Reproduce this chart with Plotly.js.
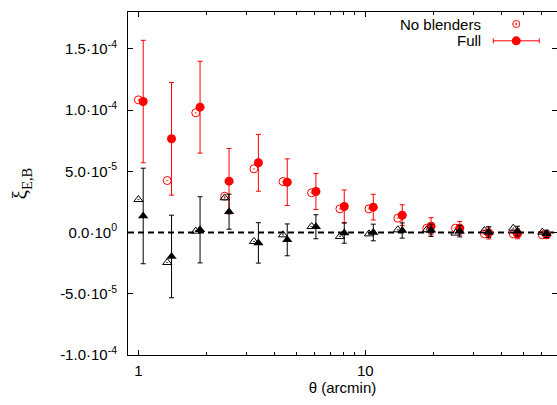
<!DOCTYPE html>
<html>
<head>
<meta charset="utf-8">
<script src="https://cdn.plot.ly/plotly-3.0.1.min.js"></script>
<style>
html,body{margin:0;padding:0;background:#fff;overflow:hidden;}
#chart{width:557px;height:405px;}
</style>
</head>
<body>
<div id="chart"></div>
<script>
// angular scale (arcmin): "No blenders" points and "Full" points (slightly offset)
const thetaNoBlend = [1.0, 1.34, 1.79, 2.40, 3.23, 4.34, 5.80, 7.73, 10.38, 13.92, 18.66, 24.98, 33.5, 44.9, 60.3];
const thetaFull    = [1.05, 1.40, 1.87, 2.51, 3.38, 4.53, 6.06, 8.08, 10.85, 14.55, 19.5, 26.1, 35.0, 46.9, 63.0];

// E-mode
const xiE_noBlend = [10.83e-5, 4.24e-5, 9.77e-5, 2.96e-5, 5.20e-5, 4.16e-5, 3.24e-5, 1.93e-5, 1.93e-5, 1.17e-5, 0.35e-5, 0.35e-5, -0.11e-5, -0.11e-5, -0.19e-5];
const xiE_full    = [10.69e-5, 7.65e-5, 10.23e-5, 4.19e-5, 5.69e-5, 4.11e-5, 3.35e-5, 2.12e-5, 2.07e-5, 1.41e-5, 0.51e-5, 0.35e-5, -0.03e-5, -0.11e-5, -0.19e-5];
const xiE_fullErr = [5.00e-5, 4.60e-5, 3.75e-5, 2.67e-5, 2.32e-5, 1.90e-5, 1.47e-5, 1.35e-5, 1.05e-5, 0.85e-5, 0.70e-5, 0.55e-5, 0.50e-5, 0.40e-5, 0.30e-5];

// B-mode
const xiB_noBlend = [2.69e-5, -2.45e-5, 0.11e-5, 2.83e-5, -0.73e-5, -0.19e-5, 0.49e-5, -0.33e-5, -0.11e-5, 0.22e-5, 0.22e-5, -0.05e-5, 0.16e-5, 0.35e-5, 0.03e-5];
const xiB_full    = [1.35e-5, -1.96e-5, 0.22e-5, 1.70e-5, -0.85e-5, -0.60e-5, 0.47e-5, -0.04e-5, 0.00e-5, 0.16e-5, 0.18e-5, 0.11e-5, 0.03e-5, 0.11e-5, -0.11e-5];
const xiB_fullErr = [3.90e-5, 3.37e-5, 2.70e-5, 1.43e-5, 1.65e-5, 1.30e-5, 0.98e-5, 0.83e-5, 0.68e-5, 0.62e-5, 0.50e-5, 0.47e-5, 0.43e-5, 0.40e-5, 0.30e-5];

// axis ticks
const yTickVals = [-1e-4, -5e-5, 0, 5e-5, 1e-4, 1.5e-4];
const yTickText = ['-1.0·10<sup>-4</sup>', '-5.0·10<sup>-5</sup>', '0.0·10<sup>0</sup>', '5.0·10<sup>-5</sup>', '1.0·10<sup>-4</sup>', '1.5·10<sup>-4</sup>'];
const xTickVals = [1, 10];
const xTickText = ['1', '10'];
const xMinorVals = [2, 3, 4, 5, 6, 7, 8, 9, 20, 30, 40, 50, 60];

const RED = '#ff0000';
const FONT = 'Liberation Sans, Arial, sans-serif';

const traces = [
  {x: thetaNoBlend, y: xiE_noBlend, mode: 'markers', type: 'scatter', name: 'No blenders',
   marker: {symbol: 'circle-open-dot', size: 8, color: RED, line: {width: 1, color: RED}}},
  {x: thetaFull, y: xiE_full, mode: 'markers', type: 'scatter', name: 'Full',
   error_y: {type: 'data', array: xiE_fullErr, visible: true, color: RED, thickness: 1, width: 2.5},
   marker: {symbol: 'circle', size: 9, color: RED}},
  {x: thetaNoBlend, y: xiB_noBlend, mode: 'markers', type: 'scatter', name: 'No blenders B',
   marker: {symbol: 'triangle-up-open-dot', size: 8, color: '#000', line: {width: 1, color: '#000'}}},
  {x: thetaFull, y: xiB_full, mode: 'markers', type: 'scatter', name: 'Full B',
   error_y: {type: 'data', array: xiB_fullErr, visible: true, color: '#000', thickness: 1, width: 2.5},
   marker: {symbol: 'triangle-up', size: 9, color: '#000'}}
];

// legend placement (paper coords)
const legX = 0.905;
const legY1 = 0.965, legY2 = 0.916;

const layout = {
  width: 557, height: 405,
  margin: {l: 128, r: 0, t: 12, b: 50},
  paper_bgcolor: '#fff', plot_bgcolor: '#fff',
  showlegend: false,
  font: {family: FONT, size: 15, color: '#000'},
  xaxis: {
    type: 'log', range: [Math.log10(0.9), Math.log10(70)],
    tickmode: 'array', tickvals: xTickVals, ticktext: xTickText,
    ticks: 'inside', ticklen: 5, tickwidth: 1, tickcolor: '#000',
    minor: {tickmode: 'array', tickvals: xMinorVals, ticks: 'inside', ticklen: 3, tickcolor: '#000', showgrid: false},
    showline: true, linecolor: '#000', linewidth: 1, mirror: 'ticks',
    showgrid: false, zeroline: false,
    tickfont: {family: FONT, size: 15},
    ticklabelstandoff: 2,
    title: {text: 'θ (arcmin)', font: {family: FONT, size: 15}, standoff: 4}
  },
  yaxis: {
    range: [-1e-4, 1.8e-4],
    tickmode: 'array', tickvals: yTickVals, ticktext: yTickText,
    ticks: 'inside', ticklen: 5, tickwidth: 1, tickcolor: '#000',
    showline: true, linecolor: '#000', linewidth: 1, mirror: 'ticks',
    showgrid: false, zeroline: false,
    tickfont: {family: FONT, size: 15},
    ticklabelstandoff: 7,
    title: {text: 'ξ<sub>E,B</sub>', font: {family: 'Liberation Serif, DejaVu Serif, serif', size: 21}, standoff: 26}
  },
  shapes: [
    {type: 'line', xref: 'paper', yref: 'y', x0: 0, x1: 1, y0: 0, y1: 0,
     line: {color: '#000', width: 1.8, dash: '6px,4px'}, layer: 'below'},
    // legend sample: open circle with dot
    {type: 'circle', xref: 'paper', yref: 'paper', xsizemode: 'pixel', ysizemode: 'pixel',
     xanchor: legX, yanchor: legY1, x0: -3.5, x1: 3.5, y0: -3.5, y1: 3.5,
     line: {color: RED, width: 1}, fillcolor: 'rgba(0,0,0,0)'},
    {type: 'circle', xref: 'paper', yref: 'paper', xsizemode: 'pixel', ysizemode: 'pixel',
     xanchor: legX, yanchor: legY1, x0: -0.8, x1: 0.8, y0: -0.8, y1: 0.8,
     line: {color: RED, width: 0.5}, fillcolor: RED},
    // legend sample: error bar with filled circle
    {type: 'line', xref: 'paper', yref: 'paper', xsizemode: 'pixel', ysizemode: 'pixel',
     xanchor: legX, yanchor: legY2, x0: -23, x1: 23, y0: 0, y1: 0, line: {color: RED, width: 1}},
    {type: 'line', xref: 'paper', yref: 'paper', xsizemode: 'pixel', ysizemode: 'pixel',
     xanchor: legX, yanchor: legY2, x0: -23, x1: -23, y0: -2.5, y1: 2.5, line: {color: RED, width: 1}},
    {type: 'line', xref: 'paper', yref: 'paper', xsizemode: 'pixel', ysizemode: 'pixel',
     xanchor: legX, yanchor: legY2, x0: 23, x1: 23, y0: -2.5, y1: 2.5, line: {color: RED, width: 1}},
    {type: 'circle', xref: 'paper', yref: 'paper', xsizemode: 'pixel', ysizemode: 'pixel',
     xanchor: legX, yanchor: legY2, x0: -4.5, x1: 4.5, y0: -4.5, y1: 4.5,
     line: {color: RED, width: 0}, fillcolor: RED}
  ],
  annotations: [
    {xref: 'paper', yref: 'paper', x: 0.828, y: legY1, xanchor: 'right', yanchor: 'middle',
     text: 'No blenders', showarrow: false, font: {family: FONT, size: 15}},
    {xref: 'paper', yref: 'paper', x: 0.828, y: legY2, xanchor: 'right', yanchor: 'middle',
     text: 'Full', showarrow: false, font: {family: FONT, size: 15}}
  ]
};

Plotly.newPlot('chart', traces, layout, {displayModeBar: false, staticPlot: true});
</script>
</body>
</html>
